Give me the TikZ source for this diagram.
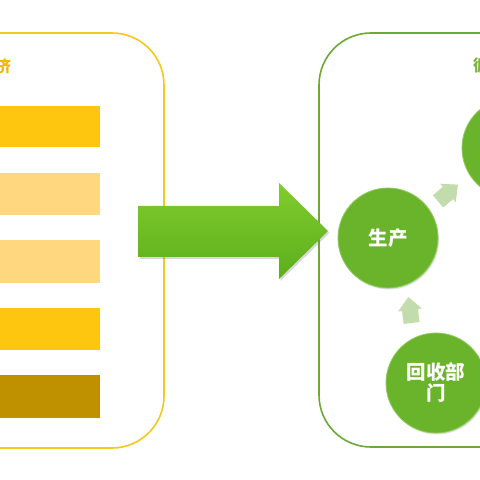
\documentclass[tikz,border=0pt]{standalone}
\usepackage{fontspec}
\newfontfamily\cjk{Noto Sans CJK SC}
\usetikzlibrary{shadows}
\definecolor{gold}{HTML}{FFC60F}
\definecolor{lightgold}{HTML}{FED77E}
\definecolor{darkgold}{HTML}{BF9000}
\definecolor{boxyellow}{HTML}{F5C81C}
\definecolor{boxgreen}{HTML}{6BAA35}
\definecolor{circgreen}{HTML}{6AB42B}
\definecolor{circedge}{HTML}{8FCB5A}
\definecolor{paleg}{HTML}{C2DCAC}
\definecolor{txtgold}{HTML}{F2B705}
\definecolor{txtgreen}{HTML}{7DB443}
\definecolor{arrtop}{HTML}{80CC2E}
\definecolor{arrbot}{HTML}{5DAE1B}
\tikzset{
  stage/.style={circle, minimum size=100pt, inner sep=0pt, fill=circgreen, draw=circedge, line width=0.8pt,
    text=white, font=\cjk\bfseries\fontsize{19.5}{24}\selectfont, align=center,
    drop shadow={shadow xshift=1pt, shadow yshift=-1.5pt, opacity=0.25}},
  house/.style={fill=paleg, draw=none},
  boxtitle/.style={font=\cjk\bfseries\fontsize{16}{20}\selectfont},
}
\begin{document}
\begin{tikzpicture}[x=1pt,y=1pt]
\useasboundingbox (0,0) rectangle (480,480);
\clip (0,0) rectangle (480,480);
\fill[white] (0,0) rectangle (480,480);
% left box
\draw[boxyellow, line width=1.6pt, rounded corners=52pt] (-80,447) rectangle (164,32);
\node[boxtitle, text=txtgold] (ltitle) at (3,414) {济};
\fill[gold]      (-10,374) rectangle (100,333);
\fill[lightgold] (-10,307) rectangle (100,265);
\fill[lightgold] (-10,240) rectangle (100,197);
\fill[gold]      (-10,172) rectangle (100,130);
\fill[darkgold]  (-10,105) rectangle (100,62);
% right box
\draw[boxgreen, line width=1.6pt, rounded corners=52pt] (319,447) rectangle (560,33);
\node[boxtitle, text=txtgreen] (rtitle) at (481,414) {循};
% big arrow
\path[top color=arrtop, bottom color=arrbot, drop shadow={shadow xshift=1.5pt, shadow yshift=-2pt, opacity=0.3}]
  (138,274) -- (279,274) -- (279,297) -- (328,249) -- (279,201) -- (279,223) -- (138,223) -- cycle;
% circles
\node[stage] (prod) at (388,242) {生产};
\node[stage] (top) at (512,332) {};
\node[stage] (recy) at (436,97) {回收部\\[-3pt]门};
% small house arrows
\begin{scope}[shift={(448,287)}, rotate=40]
  \fill[house] (-13,-8) -- (0,-8) -- (0,-12) -- (13,0) -- (0,12) -- (0,8) -- (-13,8) -- cycle;
\end{scope}
\begin{scope}[shift={(410,170)}, rotate=97]
  \fill[house] (-13,-8) -- (0,-8) -- (0,-12) -- (13,0) -- (0,12) -- (0,8) -- (-13,8) -- cycle;
\end{scope}
\end{tikzpicture}
\end{document}
